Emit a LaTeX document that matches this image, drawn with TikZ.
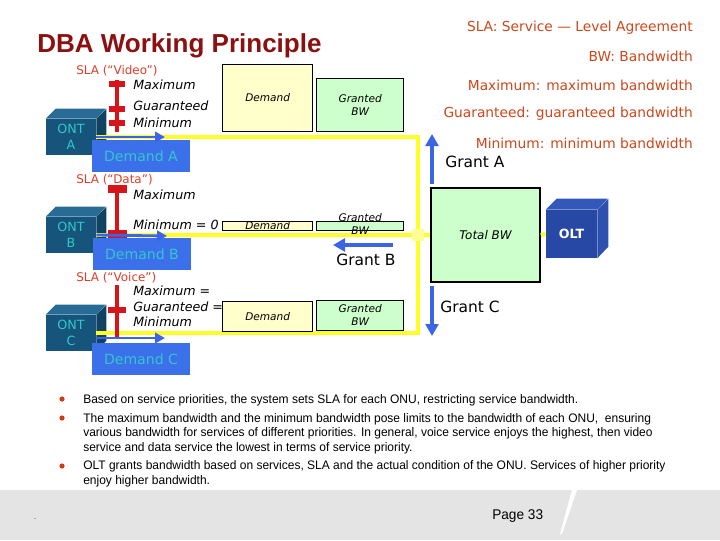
\documentclass[tikz,border=0pt]{standalone}
\usepackage{fontspec}
\setmainfont{Liberation Sans}
\newfontfamily\comicfont{DejaVu Sans}
\newfontfamily\bodyfont[FakeStretch=0.97]{Liberation Sans}
\usetikzlibrary{arrows.meta, positioning}

\definecolor{titlered}{RGB}{140,16,16}
\definecolor{legendred}{RGB}{205,70,25}
\definecolor{slared}{RGB}{225,60,40}
\definecolor{barred}{RGB}{215,20,25}
\definecolor{ontfront}{RGB}{22,84,124}
\definecolor{onttop}{RGB}{40,108,150}
\definecolor{ontside}{RGB}{16,66,100}
\definecolor{ontcyan}{RGB}{50,200,200}
\definecolor{tagblue}{RGB}{60,112,235}
\definecolor{arrowblue}{RGB}{60,100,230}
\definecolor{demfill}{RGB}{255,255,204}
\definecolor{grantfill}{RGB}{204,255,204}
\definecolor{linkyellow}{RGB}{255,255,40}
\definecolor{joinyellow}{RGB}{255,255,150}
\definecolor{oltfront}{RGB}{40,72,165}
\definecolor{olttop}{RGB}{52,88,185}
\definecolor{oltside}{RGB}{46,80,175}
\definecolor{dotred}{RGB}{205,60,20}
\definecolor{footgray}{RGB}{228,228,228}

\tikzset{
    ont/.style={rectangle, fill=ontfront, minimum width=1.25cm, minimum height=0.9cm, inner sep=0pt, align=center, text=ontcyan, font=\comicfont\fontsize{9}{11}\selectfont},
    olt/.style={rectangle, fill=oltfront, minimum width=1.275cm, minimum height=1.2cm, inner sep=0pt, text=white, font=\comicfont\bfseries\fontsize{9}{11}\selectfont},
    demtag/.style={rectangle, fill=tagblue, minimum width=2.45cm, minimum height=0.8cm, inner sep=0pt, text=ontcyan, font=\comicfont\fontsize{10}{12}\selectfont},
    demand/.style={rectangle, draw=black, line width=1pt, fill=demfill, minimum width=2.25cm, inner sep=0pt, align=center, font=\comicfont\itshape\fontsize{7.5}{9.2}\selectfont},
    granted/.style={rectangle, draw=black, line width=1pt, fill=grantfill, minimum width=2.175cm, inner sep=0pt, align=center, font=\comicfont\itshape\fontsize{7.5}{9.2}\selectfont},
    boxtext/.style={inner sep=0pt, align=center, font=\comicfont\itshape\fontsize{7.5}{9.2}\selectfont},
    slatag/.style={anchor=west, inner sep=0pt, text=slared, font=\comicfont\fontsize{8.5}{10}\selectfont},
    slaitem/.style={anchor=west, inner sep=0pt, font=\comicfont\itshape\fontsize{9}{11}\selectfont},
    slabar/.style={barred, line width=2.8pt},
    slatick/.style={barred, line width=4pt},
    link/.style={linkyellow, line width=2.8pt},
    demarrow/.style={arrowblue, line width=2pt, -{Triangle[length=2.5mm, width=2.6mm]}},
    grantarrow/.style={arrowblue, line width=3.4pt, -{Triangle[length=3mm, width=3.2mm]}},
    grantlbl/.style={anchor=west, inner sep=0pt, font=\comicfont\fontsize{11}{13}\selectfont},
    legendline/.style={anchor=east, inner sep=0pt, text=legendred, font=\comicfont\fontsize{9.8}{12}\selectfont},
    bulletpara/.style={anchor=base west, inner sep=0pt, align=left, font=\bodyfont\fontsize{8.8}{10.3}\selectfont}
}

\begin{document}
\begin{tikzpicture}[x=0.025cm, y=-0.025cm]
    \useasboundingbox (0,0) rectangle (720,540);

    % Footer band
    \fill[footgray] (0,490) rectangle (720,540);
    \fill[white] (572,490) -- (577,490) -- (562,534) -- (560,534) -- cycle;
    \node[anchor=west, inner sep=0pt, font=\bodyfont\fontsize{10}{12}\selectfont] (page) at (492,516) {Page 33};
    \node[inner sep=0pt, font=\tiny] (dot) at (35,519) {.};

    % Title and legend
    \node[anchor=base west, inner sep=0pt, text=titlered, font=\bfseries\fontsize{18.5}{22}\selectfont] (title) at (37,52) {DBA Working Principle};
    \node[legendline] (lg1) at (693,28) {SLA: Service — Level Agreement};
    \node[legendline] (lg2) at (693,56) {BW: Bandwidth};
    \node[legendline] (lg3) at (693,85) {Maximum: maximum bandwidth};
    \node[legendline] (lg4) at (693,114) {Guaranteed: guaranteed bandwidth};
    \node[legendline] (lg5) at (693,143) {Minimum: minimum bandwidth};

    % ONT cubes
    \node[ont] (ontA) at (71,137) {ONT\\A};
    \fill[onttop] (ontA.north west) -- ++(10,-10) -- ++(50,0) -- (ontA.north east) -- cycle;
    \fill[ontside] (ontA.north east) -- ++(10,-10) -- ++(0,36) -- (ontA.south east) -- cycle;
    \node[ont] (ontB) at (71,235) {ONT\\B};
    \fill[onttop] (ontB.north west) -- ++(10,-10) -- ++(50,0) -- (ontB.north east) -- cycle;
    \fill[ontside] (ontB.north east) -- ++(10,-10) -- ++(0,36) -- (ontB.south east) -- cycle;
    \node[ont] (ontC) at (71,333) {ONT\\C};
    \fill[onttop] (ontC.north west) -- ++(10,-10) -- ++(50,0) -- (ontC.north east) -- cycle;
    \fill[ontside] (ontC.north east) -- ++(10,-10) -- ++(0,36) -- (ontC.south east) -- cycle;

    % OLT side
    \node[granted, minimum width=2.725cm, minimum height=2.35cm, font=\comicfont\itshape\fontsize{8.5}{10}\selectfont] (totbw) at (485.5,235) {Total BW};
    \node[olt] (olt) at (571.5,234) {OLT};
    \fill[olttop] (olt.north west) -- ++(11,-11) -- ++(51,0) -- (olt.north east) -- cycle;
    \fill[oltside] (olt.north east) -- ++(11,-11) -- ++(0,48) -- (olt.south east) -- cycle;

    % Yellow links
    \coordinate (cornA) at (418,137);
    \coordinate (cornC) at (418,333);
    \draw[link] (ontA.east) -- (cornA) -- (cornC) -- (ontC.east);
    \draw[link] (ontB.east) -- (totbw.west);
    \draw[link] (totbw.east) -- (olt.west);
    \node[rectangle, fill=joinyellow, minimum size=0.32cm, inner sep=0pt] (join) at (418,235) {};

    % SLA labels
    \node[slatag] (slaA) at (76,71) {SLA (“Video”)};
    \node[slaitem] (maxA) at (133,85) {Maximum};
    \node[slaitem] (guaA) at (133,106) {Guaranteed};
    \node[slaitem] (minA) at (133,123) {Minimum};
    \node[slatag] (slaB) at (76,180) {SLA (“Data”)};
    \node[slaitem] (maxB) at (133,195) {Maximum};
    \node[slaitem] (minB) at (133,225) {Minimum = 0};
    \node[slatag] (slaC) at (76,278) {SLA (“Voice”)};
    \node[slaitem] (maxC) at (133,291) {Maximum =};
    \node[slaitem] (guaC) at (133,307) {Guaranteed =};
    \node[slaitem] (minC) at (133,322) {Minimum};

    % Demand and granted boxes
    \node[demand, minimum height=1.675cm, anchor=south west] (demA) at (222,132) {Demand};
    \node[granted, minimum height=1.325cm, anchor=south west] (grA) at (316,132) {Granted\\BW};
    \node[demand, minimum height=0.225cm, anchor=south west] (demB) at (222,231) {};
    \node[boxtext] (demBtxt) at (demB) {Demand};
    \node[granted, minimum height=0.225cm, anchor=south west] (grB) at (316,231) {};
    \node[boxtext] (grBtxt) at ([yshift=1.5pt]grB.center) {Granted\\BW};
    \node[demand, minimum height=0.75cm, anchor=south west] (demC) at (222,332) {Demand};
    \node[granted, minimum height=0.75cm, anchor=south west] (grC) at (316,331) {Granted\\BW};

    % Demand tags
    \node[demtag] (tagA) at (141,156) {Demand A};
    \node[demtag] (tagB) at (142,254) {Demand B};
    \node[demtag] (tagC) at (141,359) {Demand C};

    % SLA bars
    \draw[slabar] (117,80) -- (117,132);
    \draw[slatick] (109,84) -- (125,84);
    \draw[slatick] (109,109) -- (125,109);
    \draw[slatick] (109,123) -- (125,123);
    \draw[slabar] (117,188) -- (117,233);
    \draw[slatick, line width=5pt] (108,189) -- (127,189);
    \draw[slatick, line width=5pt] (108,234) -- (127,234);
    \draw[slabar] (117,285) -- (117,338);
    \draw[slatick] (108,310) -- (126,310);

    % Demand arrows
    \coordinate (arrA) at (165,137);
    \coordinate (arrB) at (167,236);
    \coordinate (arrC) at (165,338);
    \draw[demarrow] (ontA.east) -- (arrA);
    \draw[demarrow] (ontB.east) -- (arrB);
    \draw[demarrow] (ontC.east |- arrC) -- (arrC);

    % Grants
    \coordinate (gA0) at (432,184);
    \coordinate (gA1) at (432,134);
    \coordinate (gB0) at (393,245);
    \coordinate (gB1) at (333,245);
    \coordinate (gC0) at (432,286);
    \coordinate (gC1) at (432,336);
    \draw[grantarrow] (gA0) -- (gA1);
    \draw[grantarrow] (gB0) -- (gB1);
    \draw[grantarrow] (gC0) -- (gC1);
    \node[grantlbl] (lblA) at (445,162) {Grant A};
    \node[grantlbl] (lblB) at (336,260) {Grant B};
    \node[grantlbl] (lblC) at (440,307) {Grant C};

    % Bullets
    \fill[dotred] (62,399) circle (2.6);
    \fill[dotred] (62,418) circle (2.6);
    \fill[dotred] (62,466) circle (2.6);
    \node[bulletpara] (b1) at (83,403) {Based on service priorities, the system sets SLA for each ONU, restricting service bandwidth.};
    \node[bulletpara] (b2) at (83,451) {The maximum bandwidth and the minimum bandwidth pose limits to the bandwidth of each ONU,~ ensuring\\various bandwidth for services of different priorities. In general, voice service enjoys the highest, then video\\service and data service the lowest in terms of service priority.};
    \node[bulletpara] (b3) at (83,484) {OLT grants bandwidth based on services, SLA and the actual condition of the ONU. Services of higher priority\\enjoy higher bandwidth.};
\end{tikzpicture}
\end{document}
